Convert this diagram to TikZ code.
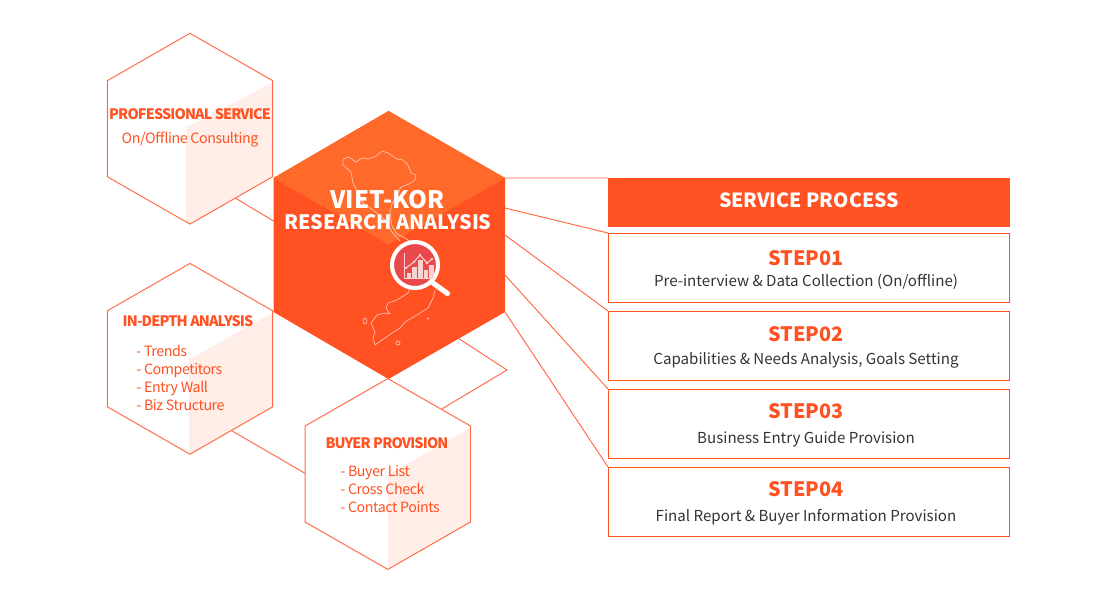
\documentclass[tikz,border=0pt]{standalone}
\usepackage{fontspec}
\setmainfont{Noto Sans CJK KR}
\usepackage{tikz}
\definecolor{hexfill}{HTML}{FF5122}
\definecolor{hexlight}{HTML}{FF6A2B}
\definecolor{hexline}{HTML}{FF6A45}
\definecolor{hexshade}{HTML}{FFEDE7}
\definecolor{maplight}{HTML}{FFC0AB}
\definecolor{lensred}{HTML}{E9484C}
\definecolor{lenspale}{HTML}{FBD3D0}
\definecolor{darktext}{HTML}{333333}
\tikzset{
  link/.style={hexline,line width=0.55pt},
  stepbox/.style={draw=hexfill,line width=0.55pt,minimum width=8.04cm,minimum height=1.38cm,inner sep=0pt,outer sep=0pt},
  headbox/.style={fill=hexfill,minimum width=8.04cm,minimum height=0.98cm,inner sep=0pt,outer sep=0pt},
  hexhead/.style={anchor=base,text=hexfill,font=\fontsize{8.2}{10}\selectfont\bfseries\addfontfeature{LetterSpace=-6},inner sep=0pt},
  hexitem/.style={text=hexfill,font=\fontsize{8.1}{10.2}\selectfont\addfontfeature{LetterSpace=-3},inner sep=0pt,align=left},
  steptitle/.style={anchor=base,text=hexfill,font=\fontsize{11.3}{14}\selectfont\bfseries,inner sep=0pt},
  steptext/.style={anchor=base,text=darktext,font=\fontsize{8.6}{10}\selectfont,inner sep=0pt},
  mapline/.style={maplight,line width=0.4pt,line join=round}
}
\begin{document}
\begin{tikzpicture}[x=0.02cm,y=-0.02cm]
\useasboundingbox (0,0) rectangle (1100,600);
%Small hexagons, one unit is one pixel of the picture
\pgfmathsetmacro{\hexW}{82.7}
\pgfmathsetmacro{\hexS}{48}
\pgfmathsetmacro{\hexH}{95.4}
\foreach \nm/\cx/\cy/\sx in {prof/190/128.7/-4,depth/190/358.8/-1,buyer/387.8/474/0}{
  \fill[hexshade,shift={(\cx,\cy)}] (\sx,0.5*\sx+1) -- (\hexW,-\hexS+2) -- (\hexW,\hexS) -- (0,\hexH) -- (\sx,\hexH+0.57*\sx) -- cycle;
  \draw[link,shift={(\cx,\cy)}] (0,-\hexH) -- (\hexW,-\hexS) -- (\hexW,\hexS) -- (0,\hexH) -- (-\hexW,\hexS) -- (-\hexW,-\hexS) -- cycle;
}
%Big hexagon
\coordinate (mainT) at (388.5,111);
\coordinate (mainUR) at (505,178);
\coordinate (mainLR) at (505,312);
\coordinate (mainB) at (388.5,379);
\coordinate (mainLL) at (273.5,312);
\coordinate (mainUL) at (273.5,178);
\coordinate (mainC) at (388.5,244.5);
\fill[hexfill] (mainT) -- (mainUR) -- (mainLR) -- (mainB) -- (mainLL) -- (mainUL) -- cycle;
\fill[hexlight] (mainT) -- (mainUR) -- (mainC) -- (mainUL) -- cycle;
%Map, traced roughly
\draw[mapline] (343,159) -- (349,157) -- (353,160) -- (356,162) -- (362,158) -- (368,159) -- (376,156) -- (382,151) -- (388,153) -- (391,155) -- (397,159) -- (403,160) -- (408,165) -- (411,173) -- (416,175) -- (415,180) -- (409,184) -- (401,187) -- (397,195) -- (392,204) -- (390,212) -- (392,226) -- (397,234) -- (405,238) -- (412,243);
\draw[mapline] (343,159) -- (343,165) -- (351,172) -- (353,183) -- (358,193) -- (363,203) -- (373,210) -- (385,220) -- (392,232) -- (400,241);
\draw[mapline] (435,290) -- (433,298) -- (428,308) -- (417,315) -- (405,322) -- (400,328) -- (392,333) -- (385,338) -- (375,345) -- (373,338) -- (375,332) -- (371,323) -- (377,315) -- (385,313) -- (390,314) -- (386,308) -- (388,303) -- (397,300) -- (408,293) -- (410,288);
\draw[mapline] (365,321) ellipse (2 and 3);
\draw[mapline] (398,343) circle (2);
\fill[maplight] (428,318.5) circle (1.2);
%Title
\node[anchor=base,text=white,font=\fontsize{13.7}{16}\selectfont\bfseries,inner sep=0pt] (titleA) at (387.5,208.3) {VIET-KOR};
\node[anchor=base,text=white,font=\fontsize{11.3}{14}\selectfont\bfseries,inner sep=0pt] (titleB) at (388,229.3) {RESEARCH ANALYSIS};
%Magnifier
\draw[white,line width=2.9pt,line cap=round] (433,283) -- (447.5,293.5);
\draw[white,fill=lensred,line width=2.3pt] (415,265) circle (23);
\draw[lenspale,line width=0.5pt] (404,253) -- (404,278) -- (434,278);
\foreach \xa/\xb/\ytop in {406.7/410.7/273,411.7/416.7/267,418.3/422.7/260,424.3/428.3/270,429.3/434/265}{
  \fill[lenspale] (\xa,\ytop) rectangle (\xb,278);
}
\draw[lenspale,line width=0.6pt] (406,268) -- (414,262) -- (420,255) -- (427,263) -- (432,259);
\foreach \xp/\yp in {406/268,414/262,420/255,427/263,432/259}{
  \fill[lenspale] (\xp,\yp) circle (1.3);
}
%Texts in the small hexagons
\node[hexhead] (profHead) at (190,119.4) {PROFESSIONAL SERVICE};
\node[hexitem,anchor=base] (profItem) at (190,143.3) {On/Offline Consulting};
\node[hexhead] (depthHead) at (188,326.3) {IN-DEPTH ANALYSIS};
\node[hexitem,anchor=north west] (depthItem) at (136,345) {- Trends\\- Competitors\\- Entry Wall\\- Biz Structure};
\node[hexhead] (buyerHead) at (387,448.4) {BUYER PROVISION};
\node[hexitem,anchor=north west] (buyerItem) at (340,465) {- Buyer List\\- Cross Check\\- Contact Points};
%Right column
\node[headbox] (head) at (809,202.5) {};
\node[anchor=base,text=white,font=\fontsize{11.1}{14}\selectfont\bfseries,inner sep=0pt] (headText) at (809,207.6) {SERVICE PROCESS};
\foreach \i/\y/\yt/\yd/\txt in {1/267.5/265/286/{Pre-interview \& Data Collection (On/offline)},2/345.5/341/364/{Capabilities \& Needs Analysis, Goals Setting},3/423.5/418/443/{Business Entry Guide Provision},4/501.5/496.7/521/{Final Report \& Buyer Information Provision}}{
  \node[stepbox] (step\i) at (809,\y) {};
  \node[steptitle] (stepT\i) at (806,\yt) {STEP0\i};
  \node[steptext] (stepD\i) at (806,\yd) {\txt};
}
%Connectors
\coordinate (out1) at (505,208);
\coordinate (out2) at (505,235);
\coordinate (out3) at (505,275);
\coordinate (profOut) at (235.7,198.3);
\coordinate (mainIn) at (273.5,221);
\coordinate (depthOut) at (231.7,430.7);
\coordinate (buyerIn) at (305,473.3);
\coordinate (loopA) at (458.3,338.3);
\coordinate (loopB) at (507,370);
\coordinate (loopC) at (441.7,409);
\draw[link] (mainUR) -- (head.north west);
\draw[link] (out1) -- (step1.north west);
\draw[link] (out2) -- (step2.north west);
\draw[link] (out3) -- (step3.north west);
\draw[link] (mainLR) -- (step4.north west);
\draw[link] (profOut) -- (mainIn);
\draw[link] (depthOut) -- (buyerIn);
\draw[link] (loopA) -- (loopB) -- (loopC);
\end{tikzpicture}
\end{document}
